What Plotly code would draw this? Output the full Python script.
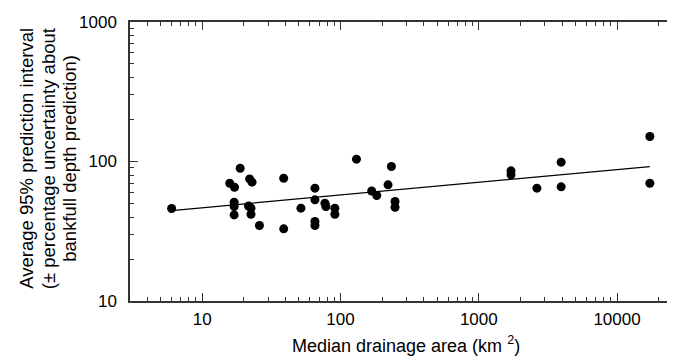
import plotly.graph_objects as go

# Data
drainage_area = [6, 18.8, 15.8, 17.1, 22.0, 22.9, 17, 17, 17, 21.6, 22.5, 22.5, 25.9,
                 38.8, 38.8, 51.7, 65.3, 65.3, 65.3, 65.3, 77.1, 78.4, 91, 91,
                 130.4, 168, 182.8, 220.6, 233.3, 247.9, 247.9,
                 1710, 1710, 2633, 3943, 3943, 17270, 17270]
pred_interval = [46, 89.5, 69.9, 65.4, 75.0, 71.1, 51.1, 47.6, 41.4, 48, 46.3, 41.9, 34.8,
                 75.9, 32.9, 46.3, 64.4, 53.1, 37.2, 34.8, 50.2, 47.6, 46.3, 41.9,
                 103.9, 61.5, 57.1, 68.0, 92, 51.7, 47,
                 85.7, 80.2, 64.4, 98.9, 65.8, 151, 69.9]

fit_x = [6, 17270]
fit_y = [44.5, 92]

x_tickvals = [10, 100, 1000, 10000]
x_ticktext = ["10", "100", "1000", "10000"]
y_tickvals = [10, 100, 1000]
y_ticktext = ["10", "100", "1000"]

FONT = "Liberation Sans, Arial, sans-serif"
AX = "#333333"

fig = go.Figure()
fig.add_trace(go.Scatter(x=fit_x, y=fit_y, mode="lines",
                         line=dict(color="black", width=1.3), showlegend=False))
fig.add_trace(go.Scatter(x=drainage_area, y=pred_interval, mode="markers",
                         marker=dict(color="black", size=9), showlegend=False))

axis_common = dict(
    showgrid=False, zeroline=False, showline=True, linecolor=AX, linewidth=1.5,
    mirror="ticks", ticks="inside", ticklen=8, tickwidth=1.3, tickcolor=AX,
    tickfont=dict(family=FONT, size=17, color="black"),
    minor=dict(ticks="inside", ticklen=4, tickwidth=1.2, tickcolor=AX,
               dtick="D1", showgrid=False),
)

fig.update_xaxes(type="log", range=[0.4771, 4.4627], tickvals=x_tickvals,
                 ticktext=x_ticktext, ticklabelstandoff=2, **axis_common)
fig.update_yaxes(type="log", range=[1, 3], tickvals=y_tickvals,
                 ticktext=y_ticktext, ticklabelstandoff=8, **axis_common)

ytitle_lines = ["Average 95% prediction interval",
                "(± percentage uncertainty about",
                "bankfull depth prediction)"]
for i, line in enumerate(ytitle_lines):
    fig.add_annotation(text=line, xref="paper", yref="paper", x=0, y=0.51,
                       xanchor="center", yanchor="middle", textangle=-90,
                       xshift=-103 + 21.5 * i, showarrow=False,
                       font=dict(family=FONT, size=18.5, color="black"))

fig.add_annotation(text="Median drainage area (km <sup>2</sup>)", xref="paper", yref="paper",
                   x=0.5, y=0, xanchor="center", yanchor="middle", yshift=-43,
                   showarrow=False, font=dict(family=FONT, size=18, color="black"))

fig.update_layout(width=675, height=356, margin=dict(l=122, r=0, t=14, b=63),
                  paper_bgcolor="white", plot_bgcolor="white",
                  font=dict(family=FONT, size=16, color="black"))

fig.write_html("out.html")
